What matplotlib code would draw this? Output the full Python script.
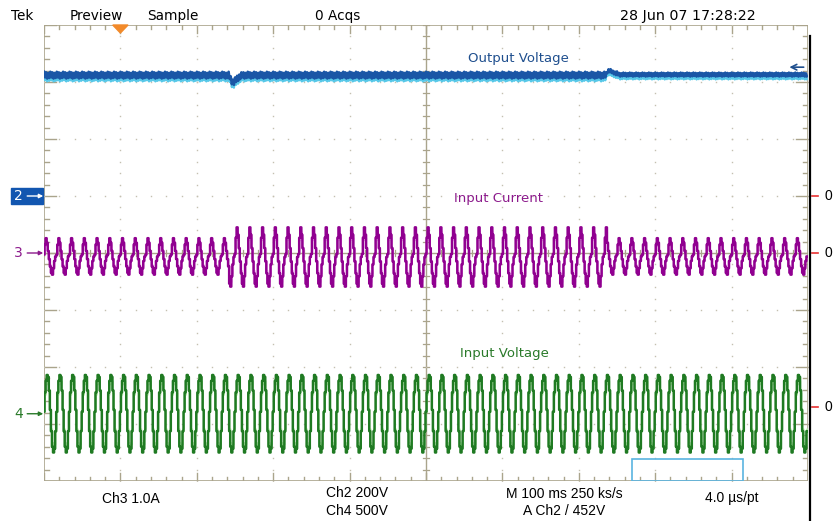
import numpy as np
import matplotlib
matplotlib.use("Agg")
import matplotlib.pyplot as plt
from matplotlib.patches import Rectangle, Polygon

plt.rcParams['font.family'] = ['Liberation Sans', 'DejaVu Sans']
WIDE = 'DejaVu Sans'

W, H = 837, 521

# screen layout: 10 x 8 divisions, 100 ms/div, line at 60 Hz
n_div_x, n_div_y = 10, 8
n_cycles = 60
pts_per_cycle = 12

# one mains cycle (fraction of peak)
voltage_cycle = [0.05, 0.55, 0.85, 1.0, 0.95, 0.6, 0.1, -0.45, -0.85, -1.0, -0.9, -0.45]
current_cycle = [0.1, 0.65, 1.0, 0.75, 0.3, -0.15, -0.55, -0.9, -1.0, -0.65, -0.25, 0.0]
ripple_cycle = [0.06, -0.04, 0.05, -0.06, 0.04, -0.05, 0.06, -0.04, 0.05, -0.06, 0.04, -0.05]

# load steps (seconds) and current amplitude per segment (div)
step_times = [0.0, 0.243, 0.737]
current_amp = [0.32, 0.52, 0.32]
current_offset = [-0.06, -0.07, -0.06]
ripple_amp = [1.0, 1.0, 0.6]

# output voltage transients at the load steps (div)
dip_values = [-0.03, -0.07, -0.1, -0.12, -0.12, -0.1, -0.08, -0.06, -0.04, -0.03, -0.02, -0.01]
bump_values = [0.07, 0.08, 0.08, 0.07, 0.06, 0.05, 0.05, 0.04, 0.03, 0.03, 0.02]

# channel positions (div from centre)
ch2_level = 3.12
ch2_ref = 1.0
ch3_ref = 0.0
ch4_ref = -2.82
ch4_zero = -2.70
ch4_amp = 0.68

n = n_cycles * pts_per_cycle
t = np.arange(n) / n                       # seconds
x = t * n_div_x                            # divisions
seg = np.searchsorted(step_times, t, side='right') - 1

i_amp = np.array(current_amp)[seg]
i_off = np.array(current_offset)[seg]
r_amp = np.array(ripple_amp)[seg]

v_in = ch4_ref + ch4_amp * np.tile(voltage_cycle, n_cycles)
i_in = ch3_ref + i_off + i_amp * np.tile(current_cycle, n_cycles)
v_out = ch2_level + r_amp * np.tile(ripple_cycle, n_cycles)
k = np.searchsorted(t, step_times[1])
v_out[k:k + len(dip_values)] += dip_values
k = np.searchsorted(t, step_times[2])
v_out[k:k + len(bump_values)] += bump_values
v_out[k + len(bump_values):] += 0.01

fig = plt.figure(figsize=(W / 100, H / 100), dpi=100)
fig.patch.set_facecolor('white')
gx0, gx1, gy0, gy1 = 44, 808, 25, 481
ax = fig.add_axes([gx0 / W, 1 - gy1 / H, (gx1 - gx0) / W, (gy1 - gy0) / H])
ax.set_xlim(0, n_div_x)
ax.set_ylim(-n_div_y / 2, n_div_y / 2)
ax.axis('off')

grat = '#aaa48c'
dots = '#c4c0b0'
# frame
ax.add_patch(Rectangle((0, -4), 10, 8, fill=False, ec=grat, lw=1.2, zorder=1))
# centre cross
ax.plot([5, 5], [-4, 4], color=grat, lw=1.0, zorder=1)
ax.plot([0, 10], [0, 0], color=grat, lw=1.0, zorder=1)

minor_x = np.arange(0, 10.01, 0.2)
minor_y = np.arange(-4, 4.01, 0.2)
for mx in minor_x:
    major = abs(mx - round(mx)) < 1e-6
    L = 0.14 if major else 0.07
    ax.plot([mx, mx], [4, 4 - L], color=grat, lw=1.0, zorder=1)
    ax.plot([mx, mx], [-4, -4 + L], color=grat, lw=1.0, zorder=1)
    ax.plot([mx, mx], [-0.05, 0.05], color=grat, lw=0.9, zorder=1)
for my in minor_y:
    major = abs(my - round(my)) < 1e-6
    L = 0.16 if major else 0.07
    ax.plot([0, L], [my, my], color=grat, lw=1.0, zorder=1)
    ax.plot([10, 10 - L], [my, my], color=grat, lw=1.0, zorder=1)
    ax.plot([4.96, 5.04], [my, my], color=grat, lw=0.9, zorder=1)

# dotted interior graticule
for gx in range(1, 10):
    if gx == 5:
        continue
    ax.plot(np.full(len(minor_y), gx), minor_y, ls='none', marker='s', ms=1.0,
            mew=0, color=dots, zorder=1)
for gy in range(-3, 4):
    if gy == 0:
        continue
    ax.plot(minor_x, np.full(len(minor_x), gy), ls='none', marker='s', ms=1.0,
            mew=0, color=dots, zorder=1)

# traces
half = 0.5 * n_div_x / n
ax.plot(x, v_out - 0.05, color='#58c8e8', lw=1.6, zorder=3)
ax.plot(x, v_out, color='#1a56a6', lw=1.8, zorder=4)

ax.plot(x + half, 0.85 * (i_in - i_off) + i_off, color='#f0a0ee', lw=0.9,
        drawstyle='steps-mid', zorder=3)
ax.plot(x, i_in, color='#900090', lw=1.8, drawstyle='steps-mid', zorder=4)

ax.plot(x + half, ch4_ref + 0.88 * (v_in - ch4_ref), color='#b0eaa4', lw=0.9,
        drawstyle='steps-mid', zorder=3)
ax.plot(x, v_in, color='#1f7a22', lw=1.8, drawstyle='steps-mid', zorder=4)

# trace labels
ax.text(5.55, 3.42, 'Output Voltage', color='#1f4f8e', fontsize=9.5, va='center',
        family=WIDE, zorder=6)
ax.text(5.37, 0.95, 'Input Current', color='#8c1a8c', fontsize=9.5, va='center',
        family=WIDE, zorder=6)
ax.text(5.44, -1.76, 'Input Voltage', color='#2a7a2a', fontsize=9.5, va='center',
        family=WIDE, zorder=6)

# trigger marker and zoom window
ax.add_patch(Polygon([[0.9, 4.0], [1.1, 4.0], [1.0, 3.86]], closed=True,
                     color='#f28a2a', clip_on=False, zorder=6))
ax.add_patch(Rectangle((7.69, -4.0), 1.46, 0.39, fill=False, ec='#5ab4e0',
                       lw=1.2, zorder=6))

# output voltage marker arrow at right
ax.annotate('', xy=(9.72, 3.26), xytext=(9.98, 3.26),
            arrowprops=dict(arrowstyle='->', color='#1f4f8e', lw=1.2), zorder=6)

# channel markers on the left
ax.add_patch(Rectangle((-0.43, ch2_ref - 0.14), 0.42, 0.28, color='#1256b0',
                       clip_on=False, zorder=6))
markers = [(ch2_ref, '2', 'white'), (ch3_ref, '3', '#8c1a8c'), (ch4_ref, '4', '#2a7a2a')]
for my, name, col in markers:
    ax.text(-0.33, my, name, color=col, fontsize=10, va='center', ha='center',
            family=WIDE, zorder=7)
    ax.annotate('', xy=(-0.01, my), xytext=(-0.22, my), annotation_clip=False,
                arrowprops=dict(arrowstyle='-|>', color=col, lw=1.0,
                                mutation_scale=6, shrinkA=0, shrinkB=0), zorder=7)

# right edge bar and zero markers
ax.plot([10.03, 10.03], [3.8, -4.7], color='black', lw=1.6, clip_on=False, zorder=6)
for zy in [ch2_ref, ch3_ref, ch4_zero]:
    ax.plot([10.05, 10.13], [zy, zy], color='#e83030', lw=1.2, clip_on=False)
    ax.text(10.21, zy, '0', fontsize=10, va='center', ha='left')

# status line and readouts
def label(px, py, s, size=10, **kw):
    fig.text(px / W, 1 - py / H, s, va='center', fontsize=size, **kw)

label(11, 16, 'Tek', 9.8, family=WIDE)
label(70, 16, 'Preview', 9.8, family=WIDE)
label(147, 16, 'Sample', 9.8, family=WIDE)
label(315, 16, '0 Acqs', 9.8, family=WIDE)
label(620, 16, '28 Jun 07 17:28:22', 10.3, family=WIDE)
label(102, 499, 'Ch3 1.0A')
label(326, 493, 'Ch2 200V')
label(326, 511, 'Ch4 500V')
label(506, 494, 'M 100 ms 250 ks/s')
label(523, 511, 'A Ch2 / 452V')
label(705, 498, '4.0 µs/pt')

fig.savefig('out.png', dpi=100, facecolor='white')
